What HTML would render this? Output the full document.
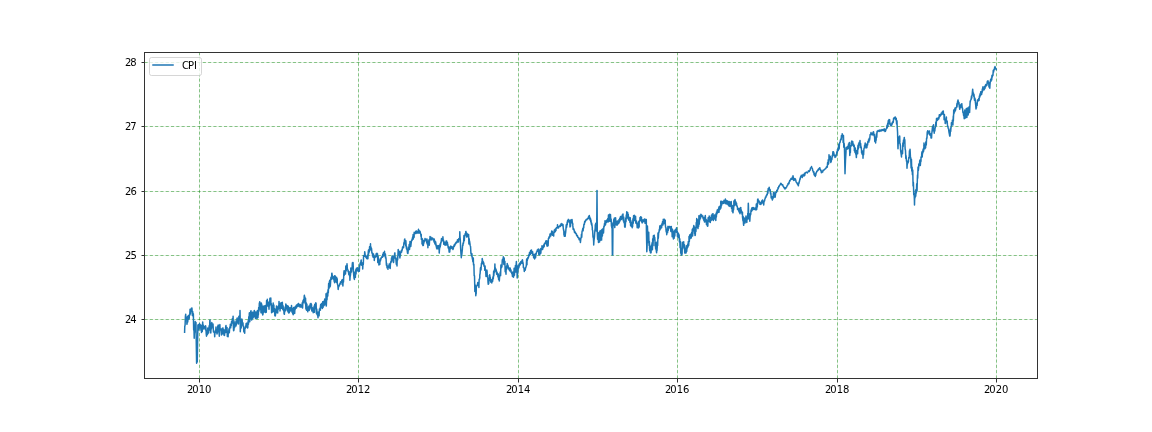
<!DOCTYPE html>
<html lang="en"><head><meta charset="utf-8"><title>CPI</title>
<style>html,body{margin:0;padding:0;background:#fff;}body{width:1152px;height:432px;overflow:hidden;position:relative;}svg{position:absolute;left:0;top:0;display:block;}text{font-family:"DejaVu Sans","Liberation Sans",sans-serif;font-size:10px;fill:#000;}</style>
</head><body>
<svg width="1152" height="432" viewBox="0 0 1152 432">
<rect x="0" y="0" width="1152" height="432" fill="#ffffff"/>
<g fill="none" stroke="#008000" stroke-opacity="0.07" stroke-width="1"><path d="M199.5 378.5V52.5"/><path d="M358.5 378.5V52.5"/><path d="M518.5 378.5V52.5"/><path d="M677.5 378.5V52.5"/><path d="M837.5 378.5V52.5"/><path d="M996.5 378.5V52.5"/><path d="M144.5 319.5H1037.5"/><path d="M144.5 255.5H1037.5"/><path d="M144.5 191.5H1037.5"/><path d="M144.5 126.5H1037.5"/><path d="M144.5 62.5H1037.5"/></g>
<g fill="none" stroke="#008000" stroke-opacity="0.44" stroke-width="1" stroke-dasharray="3.1 2.2"><path d="M199.5 378.5V52.5"/><path d="M358.5 378.5V52.5"/><path d="M518.5 378.5V52.5"/><path d="M677.5 378.5V52.5"/><path d="M837.5 378.5V52.5"/><path d="M996.5 378.5V52.5"/></g>
<g fill="none" stroke="#008000" stroke-opacity="0.44" stroke-width="1" stroke-dasharray="3.1 2.2"><path d="M144.5 319.5H1037.5"/><path d="M144.5 255.5H1037.5"/><path d="M144.5 191.5H1037.5"/><path d="M144.5 126.5H1037.5"/><path d="M144.5 62.5H1037.5"/></g>
<clipPath id="axclip"><rect x="144" y="52" width="893.5" height="326.5"/></clipPath>
<path clip-path="url(#axclip)" d="M184.60 332.30 L184.76 326.48 L185.09 325.10 L185.43 316.13 L185.70 314.30 L185.76 318.78 L186.09 319.22 L186.42 318.88 L186.75 317.47 L186.90 324.20 L187.08 323.47 L187.41 316.60 L187.74 321.98 L188.07 315.92 L188.40 319.46 L188.40 315.80 L188.73 317.00 L189.06 317.69 L189.20 318.50 L189.39 314.49 L189.72 315.31 L190.05 309.27 L190.38 313.93 L190.60 309.50 L190.71 309.21 L191.04 311.27 L191.37 308.28 L191.70 310.23 L191.90 307.90 L192.03 309.52 L192.36 315.41 L192.69 311.44 L193.02 315.45 L193.30 316.50 L193.35 313.80 L193.68 329.99 L194.01 330.07 L194.20 338.30 L194.34 333.65 L194.67 331.52 L195.00 327.13 L195.20 321.50 L195.33 325.13 L195.66 324.81 L195.99 322.52 L196.00 326.00 L196.60 363.30 L197.00 346.00 L197.25 362.00 L197.90 325.00 L197.97 326.22 L198.30 328.59 L198.60 330.00 L198.63 324.82 L198.96 328.86 L199.29 325.28 L199.50 323.50 L199.62 326.12 L199.95 324.64 L200.28 327.86 L200.61 324.95 L200.80 325.00 L200.94 330.18 L201.27 325.52 L201.50 332.50 L201.60 331.67 L201.93 325.78 L202.26 331.38 L202.59 324.03 L202.70 322.00 L202.92 327.48 L203.25 324.97 L203.58 325.86 L203.80 329.00 L203.91 326.21 L204.24 327.82 L204.57 326.72 L204.90 327.50 L205.23 326.98 L205.56 329.79 L205.60 325.80 L205.89 327.62 L206.22 333.72 L206.50 336.20 L206.55 330.15 L206.88 335.05 L207.21 332.78 L207.54 334.25 L207.80 328.00 L207.87 330.09 L208.20 331.05 L208.53 329.34 L208.60 333.00 L208.86 330.61 L209.19 325.66 L209.52 330.08 L209.85 320.32 L210.00 320.00 L210.18 327.79 L210.51 323.19 L210.80 333.00 L210.84 332.62 L211.17 323.93 L211.50 328.65 L211.80 322.50 L211.83 323.18 L212.16 324.75 L212.49 324.18 L212.82 327.11 L213.00 324.00 L213.15 326.47 L213.48 331.96 L213.81 330.69 L214.14 331.55 L214.47 332.32 L214.70 336.70 L214.80 334.77 L215.13 332.16 L215.46 332.37 L215.79 330.01 L216.00 327.00 L216.12 330.07 L216.45 329.66 L216.78 332.46 L217.00 334.00 L217.11 329.46 L217.44 332.94 L217.77 326.04 L218.10 328.83 L218.20 325.00 L218.43 328.90 L218.76 329.67 L219.09 332.19 L219.30 336.20 L219.42 333.52 L219.75 325.08 L219.90 324.60 L220.08 329.64 L220.41 329.67 L220.74 330.09 L221.07 329.01 L221.40 333.22 L221.50 335.00 L221.73 330.54 L222.06 334.28 L222.39 328.31 L222.72 330.49 L223.00 328.00 L223.05 329.73 L223.38 333.71 L223.71 329.86 L224.04 335.30 L224.37 331.08 L224.50 335.50 L224.70 332.40 L225.03 329.76 L225.36 332.60 L225.69 326.73 L226.00 325.40 L226.02 329.12 L226.35 330.15 L226.68 332.38 L227.00 333.00 L227.01 327.40 L227.34 336.43 L227.67 331.74 L228.00 333.04 L228.10 336.70 L228.33 331.35 L228.66 332.49 L228.99 328.67 L229.00 329.00 L229.32 332.74 L229.65 328.27 L229.98 326.66 L230.20 327.50 L230.31 324.33 L230.64 327.83 L230.97 324.31 L231.30 325.43 L231.50 322.00 L231.63 321.40 L231.96 323.07 L232.29 318.79 L232.62 320.04 L232.95 319.06 L233.10 316.20 L233.28 324.92 L233.60 330.80 L233.61 327.40 L233.94 330.10 L234.27 322.85 L234.60 327.61 L234.93 324.43 L235.00 321.00 L235.26 325.54 L235.59 323.64 L235.92 323.44 L236.00 326.00 L236.25 322.94 L236.58 324.24 L236.91 318.94 L237.20 318.00 L237.24 322.85 L237.57 320.87 L237.90 320.53 L238.23 320.84 L238.50 324.00 L238.56 322.12 L238.89 316.14 L239.22 317.51 L239.55 315.70 L239.88 317.14 L240.00 310.40 L240.21 320.51 L240.30 331.70 L240.54 327.71 L240.87 326.41 L241.20 328.02 L241.53 320.40 L241.80 319.00 L241.86 323.59 L242.19 320.39 L242.52 325.06 L242.85 323.39 L243.00 323.00 L243.18 326.57 L243.51 326.32 L243.84 331.85 L244.17 329.73 L244.50 330.30 L244.70 333.30 L244.83 327.63 L245.16 328.50 L245.49 327.56 L245.50 326.00 L245.82 327.23 L246.15 323.44 L246.48 326.87 L246.80 323.30 L246.81 325.39 L247.14 327.10 L247.47 322.89 L247.50 328.00 L247.80 327.54 L248.13 320.79 L248.46 324.30 L248.79 316.63 L249.12 320.97 L249.30 313.70 L249.45 312.74 L249.78 321.80 L250.00 318.00 L250.11 313.95 L250.44 318.56 L250.77 310.98 L251.00 310.80 L251.10 318.06 L251.43 312.95 L251.60 320.00 L251.76 319.82 L252.09 312.44 L252.42 318.59 L252.75 312.19 L253.00 314.00 L253.08 317.87 L253.41 312.21 L253.74 316.51 L254.07 311.84 L254.30 310.40 L254.40 316.68 L254.73 311.18 L255.06 316.24 L255.39 312.09 L255.50 318.50 L255.72 317.92 L256.05 312.32 L256.38 317.41 L256.50 312.00 L256.71 312.00 L257.04 318.43 L257.37 310.52 L257.70 317.10 L258.00 317.50 L258.03 312.75 L258.36 314.91 L258.69 307.56 L259.02 311.15 L259.35 302.97 L259.68 307.83 L259.70 301.70 L260.01 302.93 L260.34 308.98 L260.67 303.84 L260.80 309.00 L261.00 312.63 L261.33 303.07 L261.50 304.00 L261.66 309.30 L261.99 304.97 L262.32 313.63 L262.65 310.63 L262.70 315.00 L262.98 314.24 L263.31 306.46 L263.64 312.43 L263.97 307.24 L264.00 306.00 L264.30 311.64 L264.50 308.00 L264.63 306.10 L264.96 311.43 L265.29 305.54 L265.50 312.50 L265.62 311.91 L265.95 305.53 L266.28 312.25 L266.61 300.44 L266.94 304.98 L267.27 301.43 L267.30 299.30 L267.60 305.73 L267.93 301.79 L268.26 306.45 L268.59 302.63 L268.92 306.79 L269.00 309.30 L269.25 302.36 L269.58 305.73 L269.91 298.31 L270.24 303.90 L270.57 300.37 L270.80 298.10 L270.90 304.28 L271.23 303.48 L271.56 311.29 L271.60 312.70 L271.89 307.68 L272.22 312.20 L272.55 305.22 L272.88 307.84 L273.20 303.00 L273.21 305.53 L273.54 311.42 L273.87 305.01 L274.00 311.00 L274.20 311.83 L274.53 308.42 L274.86 315.80 L275.19 311.63 L275.30 316.00 L275.52 314.55 L275.85 309.31 L276.18 312.84 L276.50 306.00 L276.51 307.36 L276.84 312.46 L277.17 306.79 L277.50 310.08 L277.70 313.00 L277.83 308.03 L278.16 309.43 L278.49 305.67 L278.82 308.19 L279.00 301.40 L279.15 304.46 L279.48 307.27 L279.81 304.92 L280.00 311.00 L280.14 309.26 L280.47 303.26 L280.80 308.13 L281.00 305.00 L281.13 302.86 L281.46 308.14 L281.79 302.55 L282.12 308.39 L282.30 302.20 L282.45 304.11 L282.78 309.39 L283.11 305.68 L283.30 309.00 L283.44 310.51 L283.77 309.25 L284.10 314.02 L284.40 314.30 L284.43 309.87 L284.76 312.06 L285.09 306.95 L285.42 310.59 L285.75 305.51 L285.80 303.90 L286.08 308.27 L286.41 304.96 L286.74 307.77 L287.00 309.00 L287.07 305.49 L287.40 310.66 L287.73 307.33 L288.00 306.00 L288.06 312.09 L288.39 306.43 L288.72 312.99 L289.00 313.00 L289.05 307.40 L289.38 312.35 L289.71 307.96 L290.04 311.17 L290.20 308.00 L290.37 308.27 L290.70 310.24 L291.03 307.47 L291.36 310.75 L291.50 305.60 L291.69 307.95 L292.02 312.24 L292.30 310.00 L292.35 308.15 L292.68 313.64 L293.01 310.64 L293.20 314.70 L293.34 312.38 L293.67 307.56 L294.00 312.72 L294.33 310.17 L294.50 308.00 L294.66 313.55 L294.99 307.30 L295.30 306.50 L295.32 309.22 L295.65 306.47 L295.98 307.06 L296.31 305.30 L296.50 308.00 L296.64 306.71 L296.97 304.82 L297.30 306.10 L297.50 304.50 L297.63 304.20 L297.96 306.45 L298.29 303.57 L298.60 303.50 L298.62 306.03 L298.95 304.16 L299.28 305.45 L299.61 304.99 L299.94 306.78 L300.00 307.00 L300.27 304.42 L300.60 306.89 L300.93 305.20 L301.26 307.02 L301.50 305.00 L301.59 305.73 L301.92 306.74 L302.25 302.65 L302.50 308.00 L302.58 307.98 L302.91 300.73 L303.24 302.99 L303.50 301.00 L303.57 299.40 L303.90 302.07 L304.23 295.83 L304.40 295.20 L304.56 299.36 L304.89 297.00 L305.22 303.70 L305.50 303.00 L305.55 298.37 L305.88 308.95 L306.21 302.82 L306.50 309.00 L306.54 310.25 L306.87 303.93 L307.20 309.81 L307.53 307.06 L307.70 311.80 L307.86 310.23 L308.19 307.62 L308.52 309.98 L308.85 306.76 L309.00 306.00 L309.18 310.46 L309.51 306.39 L309.84 308.04 L310.00 309.00 L310.17 303.88 L310.50 306.76 L310.83 303.54 L311.10 303.50 L311.16 307.31 L311.49 304.55 L311.82 310.99 L312.00 309.00 L312.15 307.55 L312.48 311.08 L312.81 308.12 L313.14 311.79 L313.20 312.70 L313.47 309.21 L313.80 310.39 L314.13 305.98 L314.46 312.32 L314.50 308.00 L314.79 304.19 L315.12 308.80 L315.45 303.65 L315.78 307.33 L315.80 302.70 L316.11 303.61 L316.44 313.56 L316.50 311.00 L316.77 308.92 L317.10 314.66 L317.43 312.01 L317.76 315.37 L318.00 317.70 L318.09 312.49 L318.42 316.03 L318.75 311.74 L319.08 315.86 L319.41 309.07 L319.50 310.00 L319.74 310.39 L320.07 307.91 L320.40 310.13 L320.50 306.00 L320.73 304.46 L321.06 307.46 L321.39 305.04 L321.50 303.50 L321.72 307.31 L322.05 303.65 L322.30 308.50 L322.38 307.19 L322.71 301.66 L323.04 307.57 L323.37 301.86 L323.60 301.40 L323.70 305.87 L324.03 303.52 L324.36 304.66 L324.50 305.00 L324.69 299.08 L325.02 303.66 L325.35 300.12 L325.68 303.93 L326.00 299.00 L326.01 293.82 L326.20 306.00 L326.34 305.40 L326.67 298.25 L327.00 299.70 L327.30 293.50 L327.33 292.23 L327.66 296.08 L327.80 296.00 L327.99 289.83 L328.32 292.76 L328.50 288.00 L328.65 283.47 L328.98 288.48 L329.31 281.71 L329.64 283.43 L329.70 280.20 L329.90 287.00 L329.97 282.35 L330.30 286.12 L330.63 281.24 L330.96 277.23 L331.29 279.30 L331.62 277.68 L331.80 273.20 L331.95 273.26 L332.28 275.73 L332.61 276.98 L332.94 276.52 L333.00 279.00 L333.27 276.80 L333.60 278.12 L333.93 279.35 L334.26 281.75 L334.50 275.70 L334.59 279.55 L334.60 282.70 L334.92 280.31 L335.25 276.04 L335.58 279.69 L335.91 278.48 L336.24 282.17 L336.57 278.04 L336.60 277.30 L336.90 280.82 L337.23 278.73 L337.30 284.00 L337.56 283.98 L337.89 285.95 L338.20 289.40 L338.22 289.07 L338.55 286.46 L338.88 286.64 L339.21 285.54 L339.50 285.00 L339.54 285.05 L339.87 283.59 L340.20 284.09 L340.53 281.87 L340.86 282.18 L341.00 282.00 L341.19 282.23 L341.52 281.65 L341.85 280.09 L342.18 284.39 L342.51 281.83 L342.80 279.40 L342.84 285.08 L342.90 286.00 L343.17 279.97 L343.50 281.93 L343.83 272.97 L344.10 270.70 L344.16 275.45 L344.49 274.74 L344.82 273.59 L345.15 270.85 L345.48 273.30 L345.50 274.00 L345.81 265.99 L346.14 270.93 L346.47 269.41 L346.80 266.43 L347.00 263.70 L347.13 265.94 L347.46 269.66 L347.79 269.81 L348.00 270.00 L348.12 271.69 L348.45 270.84 L348.78 274.55 L349.11 271.58 L349.44 275.79 L349.77 273.97 L349.90 280.20 L350.10 276.98 L350.43 275.18 L350.76 272.07 L350.80 268.00 L351.09 269.83 L351.42 268.87 L351.50 272.00 L351.75 269.12 L352.08 267.90 L352.41 262.85 L352.74 264.99 L352.80 262.50 L353.07 262.62 L353.40 270.88 L353.50 272.00 L353.73 275.13 L354.06 278.43 L354.39 275.54 L354.40 279.40 L354.72 275.58 L355.05 272.02 L355.38 277.36 L355.50 272.00 L355.71 269.74 L356.04 274.03 L356.37 268.29 L356.70 270.67 L357.03 269.25 L357.36 269.65 L357.40 267.70 L357.69 269.73 L358.02 269.75 L358.20 271.50 L358.35 269.81 L358.68 271.04 L359.01 267.55 L359.10 271.00 L359.34 271.27 L359.67 265.16 L360.00 264.70 L360.00 264.00 L360.33 262.87 L360.66 264.71 L360.99 260.80 L361.20 260.00 L361.32 264.51 L361.65 265.12 L361.98 262.83 L362.31 265.23 L362.64 264.49 L362.70 268.90 L362.97 264.42 L363.30 264.41 L363.50 258.00 L363.63 255.79 L363.96 256.59 L364.29 255.76 L364.62 254.46 L364.70 251.70 L364.95 253.21 L365.28 256.38 L365.61 255.72 L365.80 256.00 L365.94 257.52 L366.27 257.30 L366.60 258.41 L366.93 257.15 L367.00 258.70 L367.26 256.87 L367.59 254.94 L367.92 258.66 L368.25 252.17 L368.50 250.00 L368.58 254.07 L368.91 250.48 L369.24 249.27 L369.30 252.00 L369.57 246.70 L369.90 247.89 L370.23 249.11 L370.50 243.70 L370.56 249.68 L370.89 246.81 L371.22 248.23 L371.50 251.00 L371.55 248.55 L371.88 252.90 L372.21 253.30 L372.50 253.00 L372.54 255.92 L372.87 255.71 L373.20 257.25 L373.53 254.11 L373.86 257.20 L374.19 256.32 L374.30 260.40 L374.52 258.05 L374.85 257.59 L375.18 257.04 L375.50 256.00 L375.51 257.11 L375.84 256.95 L376.17 253.64 L376.50 255.42 L376.83 253.30 L377.00 253.30 L377.16 256.75 L377.49 253.80 L377.82 262.61 L378.00 259.00 L378.15 256.25 L378.48 262.57 L378.81 261.59 L378.90 265.00 L379.14 263.11 L379.47 260.79 L379.80 264.55 L380.00 259.00 L380.13 259.03 L380.46 260.87 L380.79 258.61 L381.12 258.73 L381.20 257.50 L381.45 257.63 L381.78 257.20 L382.11 256.15 L382.44 257.30 L382.50 257.00 L382.77 254.18 L383.10 256.39 L383.43 252.64 L383.76 255.10 L384.09 253.87 L384.42 253.78 L384.50 251.20 L384.75 255.91 L385.08 255.86 L385.41 254.00 L385.50 258.00 L385.74 256.78 L386.07 258.83 L386.40 265.23 L386.50 263.00 L386.73 263.75 L387.06 267.84 L387.39 266.52 L387.72 266.69 L388.00 269.30 L388.05 265.96 L388.38 267.59 L388.71 266.65 L389.04 266.59 L389.20 264.00 L389.37 265.66 L389.70 267.83 L390.03 263.82 L390.20 268.50 L390.36 264.97 L390.69 261.76 L391.02 262.48 L391.35 260.69 L391.50 258.00 L391.68 261.75 L392.01 256.36 L392.34 258.55 L392.50 256.00 L392.67 257.62 L393.00 259.93 L393.33 256.57 L393.50 262.50 L393.66 261.78 L393.99 255.94 L394.32 258.00 L394.65 253.54 L394.90 252.90 L394.98 255.88 L395.31 258.08 L395.64 258.41 L395.80 259.00 L395.97 259.92 L396.30 264.24 L396.63 258.85 L396.96 264.46 L397.00 265.90 L397.29 256.90 L397.62 260.05 L397.95 254.64 L398.20 249.60 L398.28 254.71 L398.61 253.67 L398.94 255.10 L399.27 251.19 L399.60 255.16 L399.90 257.90 L399.93 253.77 L400.26 256.22 L400.59 252.88 L400.92 251.78 L401.00 251.00 L401.25 252.26 L401.58 252.15 L401.91 249.72 L402.24 249.95 L402.40 248.30 L402.57 247.07 L402.90 247.91 L403.23 246.62 L403.50 246.00 L403.56 247.75 L403.89 242.65 L404.22 243.74 L404.55 239.62 L404.80 238.90 L404.88 242.50 L405.21 243.76 L405.54 243.48 L405.80 246.00 L405.87 240.80 L406.20 246.01 L406.50 249.00 L406.53 246.39 L406.86 249.28 L407.19 250.12 L407.52 253.27 L407.85 251.10 L407.90 253.50 L408.18 250.71 L408.51 247.33 L408.84 248.72 L409.00 247.00 L409.17 244.52 L409.50 249.45 L409.83 245.36 L410.00 241.40 L410.16 245.39 L410.49 242.38 L410.80 246.40 L410.82 246.22 L411.15 243.09 L411.48 241.05 L411.81 239.87 L412.00 240.00 L412.14 240.13 L412.47 238.24 L412.60 237.00 L412.80 239.50 L413.13 234.49 L413.30 239.00 L413.46 237.60 L413.79 234.87 L414.12 237.33 L414.20 232.20 L414.45 232.44 L414.78 233.57 L415.11 232.42 L415.44 232.92 L415.50 233.50 L415.77 231.33 L416.10 233.41 L416.43 232.14 L416.50 231.00 L416.76 232.41 L417.09 232.25 L417.30 233.00 L417.42 232.96 L417.75 231.44 L418.08 232.95 L418.41 229.68 L418.50 229.30 L418.74 232.96 L419.07 230.62 L419.40 232.08 L419.50 233.00 L419.73 230.99 L420.06 232.37 L420.30 232.00 L420.39 233.22 L420.72 233.94 L421.05 236.76 L421.20 234.30 L421.38 239.37 L421.71 238.14 L422.00 240.00 L422.04 244.05 L422.37 238.66 L422.70 242.11 L422.90 245.60 L423.03 242.60 L423.36 245.37 L423.69 240.59 L424.00 243.00 L424.02 241.67 L424.35 241.40 L424.68 241.28 L425.00 238.50 L425.01 239.13 L425.34 239.72 L425.67 239.11 L426.00 239.85 L426.00 240.00 L426.33 239.28 L426.66 242.28 L426.99 243.12 L427.00 239.00 L427.32 244.13 L427.65 240.98 L427.90 247.70 L427.98 244.50 L428.31 241.55 L428.64 243.74 L428.80 243.00 L428.97 239.84 L429.30 245.16 L429.63 238.97 L429.96 239.77 L430.00 236.40 L430.29 238.70 L430.62 238.21 L430.95 237.17 L431.20 240.00 L431.28 238.85 L431.61 238.35 L431.94 239.08 L432.27 238.73 L432.30 238.00 L432.60 239.02 L432.93 238.38 L433.26 240.03 L433.30 238.90 L433.59 239.70 L433.92 240.25 L434.00 242.00 L434.25 239.00 L434.58 241.94 L434.91 243.83 L435.00 241.00 L435.24 244.22 L435.57 241.64 L435.90 243.61 L436.00 246.00 L436.23 245.03 L436.56 248.08 L436.89 247.17 L437.00 249.00 L437.22 246.90 L437.55 245.77 L437.88 248.58 L438.00 245.50 L438.21 248.73 L438.54 248.17 L438.87 245.70 L439.20 250.96 L439.20 253.10 L439.53 248.45 L439.86 247.75 L440.00 244.00 L440.19 246.95 L440.52 245.17 L440.85 242.27 L441.00 243.00 L441.18 241.62 L441.51 238.53 L441.84 239.55 L442.00 239.00 L442.17 238.68 L442.50 240.74 L442.83 239.55 L442.90 236.80 L443.16 240.13 L443.49 240.06 L443.82 244.37 L444.00 243.00 L444.15 241.80 L444.48 244.08 L444.81 244.01 L445.00 245.20 L445.14 244.84 L445.47 242.31 L445.80 244.90 L446.00 242.00 L446.13 241.05 L446.46 243.03 L446.70 241.00 L446.79 242.96 L447.12 245.06 L447.45 242.51 L447.50 244.00 L447.78 244.42 L448.11 247.26 L448.30 248.00 L448.44 246.62 L448.77 247.12 L449.10 251.49 L449.20 252.20 L449.43 250.38 L449.76 251.86 L450.00 247.00 L450.09 249.41 L450.42 247.43 L450.75 247.16 L450.80 246.00 L451.08 247.20 L451.41 246.65 L451.74 248.36 L452.00 248.00 L452.07 246.72 L452.40 248.86 L452.73 248.03 L453.00 249.50 L453.06 248.89 L453.39 248.18 L453.72 246.14 L454.00 246.00 L454.05 245.12 L454.38 246.21 L454.71 245.54 L455.00 244.00 L455.04 244.87 L455.37 243.32 L455.70 243.01 L456.00 243.50 L456.03 242.15 L456.36 242.23 L456.69 241.78 L457.02 242.53 L457.35 241.04 L457.50 239.70 L457.68 241.57 L458.01 240.08 L458.34 240.94 L458.50 242.00 L458.67 238.77 L459.00 239.60 L459.33 238.34 L459.66 238.07 L459.80 231.80 L459.99 236.54 L460.32 240.33 L460.50 245.00 L460.65 248.62 L460.98 253.64 L461.30 257.70 L461.31 253.98 L461.64 255.93 L461.97 253.25 L462.30 249.64 L462.30 250.00 L462.63 245.06 L462.96 245.59 L463.00 243.00 L463.29 243.90 L463.62 242.02 L463.95 235.42 L464.00 238.00 L464.28 240.67 L464.61 236.17 L464.94 235.57 L465.27 233.47 L465.60 234.82 L465.80 231.40 L465.93 231.49 L466.26 233.85 L466.59 232.90 L466.60 237.00 L466.92 235.64 L467.25 234.93 L467.50 234.00 L467.58 236.57 L467.91 236.67 L468.24 236.06 L468.57 234.41 L468.70 236.80 L468.90 243.96 L469.23 238.84 L469.50 243.00 L469.56 241.03 L469.89 243.29 L470.22 245.68 L470.55 246.44 L470.80 251.00 L470.88 253.10 L471.21 253.85 L471.50 256.00 L471.54 254.98 L471.87 253.62 L472.20 257.67 L472.50 259.30 L472.53 257.75 L472.86 261.63 L473.19 258.86 L473.30 258.00 L473.52 264.96 L473.85 264.08 L473.90 264.30 L474.18 275.77 L474.51 275.79 L474.80 288.00 L474.84 291.38 L475.17 288.12 L475.30 285.00 L475.50 286.88 L475.80 295.80 L475.83 291.52 L476.16 293.88 L476.30 287.00 L476.49 286.41 L476.82 286.01 L477.15 285.04 L477.48 283.89 L477.80 282.50 L477.81 285.16 L478.14 284.65 L478.47 284.85 L478.80 285.17 L478.90 287.50 L479.13 279.45 L479.46 279.24 L479.79 277.54 L479.80 275.00 L480.12 273.28 L480.45 268.01 L480.50 268.00 L480.78 267.22 L481.00 270.00 L481.11 268.17 L481.44 263.42 L481.77 263.22 L482.10 260.90 L482.20 258.50 L482.43 259.59 L482.76 261.79 L483.00 264.00 L483.09 262.32 L483.42 262.01 L483.75 264.85 L483.80 263.00 L484.08 266.18 L484.41 266.28 L484.70 266.80 L484.74 270.24 L485.07 266.08 L485.30 270.00 L485.40 269.71 L485.73 271.37 L486.00 276.40 L486.06 274.78 L486.39 271.47 L486.72 275.87 L486.80 270.00 L487.05 271.16 L487.30 276.00 L487.38 277.01 L487.71 275.55 L488.04 282.48 L488.30 284.30 L488.37 281.61 L488.70 283.70 L489.00 278.00 L489.03 280.80 L489.36 280.11 L489.69 277.91 L489.70 274.70 L490.02 277.11 L490.35 277.86 L490.50 279.00 L490.68 282.11 L491.01 279.67 L491.34 281.58 L491.67 279.87 L491.80 283.00 L492.00 281.11 L492.33 279.84 L492.66 281.20 L492.80 278.00 L492.99 276.79 L493.32 278.64 L493.65 271.26 L493.80 276.00 L493.98 273.32 L494.30 270.00 L494.31 272.14 L494.64 272.00 L494.90 263.90 L494.97 267.01 L495.30 268.27 L495.50 271.00 L495.63 268.51 L495.96 270.79 L496.29 270.03 L496.62 274.22 L496.80 271.80 L496.95 273.47 L497.28 272.93 L497.50 275.00 L497.61 274.02 L497.94 276.85 L498.27 275.60 L498.30 274.00 L498.60 279.58 L498.93 277.36 L499.26 279.96 L499.30 281.00 L499.59 277.03 L499.92 274.94 L500.25 271.92 L500.30 273.00 L500.58 275.61 L500.91 264.97 L501.24 267.87 L501.30 266.00 L501.57 265.05 L501.90 267.02 L502.23 261.24 L502.30 260.00 L502.56 259.38 L502.89 259.52 L503.22 260.11 L503.30 256.80 L503.55 260.29 L503.88 264.56 L504.21 257.91 L504.30 262.00 L504.54 263.77 L504.87 261.16 L505.20 271.83 L505.30 267.00 L505.53 266.76 L505.86 272.50 L506.00 274.30 L506.19 267.12 L506.52 269.35 L506.60 268.00 L506.85 265.58 L507.18 266.62 L507.20 263.50 L507.51 264.49 L507.84 267.87 L508.17 265.74 L508.20 267.00 L508.50 268.82 L508.83 267.72 L509.16 269.82 L509.30 268.00 L509.49 268.42 L509.82 270.79 L510.00 271.00 L510.15 268.09 L510.48 270.69 L510.81 271.12 L511.00 270.00 L511.14 272.35 L511.47 272.24 L511.80 273.55 L512.00 273.00 L512.13 273.30 L512.46 276.43 L512.79 271.99 L513.12 276.35 L513.45 272.83 L513.50 277.20 L513.78 275.63 L514.11 268.16 L514.30 270.00 L514.44 275.14 L514.77 268.94 L515.00 268.00 L515.10 272.22 L515.43 265.38 L515.76 271.57 L515.80 272.00 L516.09 265.19 L516.40 261.40 L516.42 265.05 L516.75 264.84 L517.08 273.97 L517.20 278.00 L517.41 270.65 L517.74 273.43 L518.00 266.00 L518.07 266.20 L518.40 268.85 L518.73 266.72 L519.00 265.00 L519.06 267.25 L519.39 263.49 L519.72 265.37 L520.00 264.00 L520.05 262.86 L520.38 264.41 L520.71 261.85 L521.04 263.40 L521.20 262.00 L521.37 261.41 L521.70 261.16 L522.03 260.81 L522.36 263.21 L522.40 259.70 L522.69 261.44 L523.02 262.81 L523.30 265.00 L523.35 267.61 L523.68 267.07 L524.01 268.31 L524.30 271.40 L524.34 269.89 L524.67 269.33 L525.00 270.35 L525.30 270.00 L525.33 269.39 L525.66 267.68 L525.99 267.09 L526.20 266.00 L526.32 265.34 L526.65 258.99 L526.98 264.69 L527.00 261.00 L527.31 260.35 L527.64 258.97 L527.70 257.70 L527.97 257.76 L528.30 257.99 L528.50 257.00 L528.63 254.89 L528.96 255.23 L529.29 255.65 L529.50 252.50 L529.62 254.57 L529.95 252.45 L530.28 252.17 L530.30 254.50 L530.61 250.46 L530.94 253.36 L531.27 252.91 L531.50 250.00 L531.60 252.12 L531.93 251.99 L532.26 253.03 L532.50 254.00 L532.59 251.69 L532.92 255.10 L533.25 255.31 L533.50 254.50 L533.58 257.44 L533.91 254.66 L534.24 258.35 L534.57 254.50 L534.60 259.00 L534.90 255.48 L535.23 253.88 L535.50 254.00 L535.56 257.63 L535.89 253.91 L536.22 254.11 L536.50 252.00 L536.55 252.07 L536.88 251.37 L537.21 250.49 L537.30 250.00 L537.54 250.83 L537.87 249.56 L538.20 251.33 L538.30 249.00 L538.53 251.32 L538.86 254.75 L539.00 252.00 L539.19 249.97 L539.52 252.69 L539.80 255.00 L539.85 252.13 L540.18 252.27 L540.51 248.64 L540.80 249.00 L540.84 253.14 L541.17 248.16 L541.50 249.61 L541.83 247.67 L542.00 245.70 L542.16 247.46 L542.49 247.61 L542.60 249.50 L542.82 247.74 L543.15 247.78 L543.48 247.45 L543.50 246.00 L543.81 244.65 L544.14 246.55 L544.47 243.30 L544.50 244.00 L544.80 244.14 L545.13 243.37 L545.46 242.81 L545.50 243.00 L545.79 240.97 L546.12 243.15 L546.45 243.55 L546.70 240.70 L546.78 244.78 L547.10 246.20 L547.11 242.81 L547.44 245.86 L547.77 241.92 L548.00 241.00 L548.10 245.81 L548.43 238.44 L548.76 238.11 L549.09 236.88 L549.20 237.30 L549.42 238.03 L549.75 236.90 L550.00 234.00 L550.08 235.94 L550.41 234.97 L550.74 234.38 L550.80 236.00 L551.07 233.29 L551.40 233.75 L551.70 231.00 L551.73 231.18 L552.06 234.40 L552.39 231.38 L552.60 234.00 L552.72 235.32 L553.05 234.94 L553.38 234.65 L553.70 236.10 L553.71 233.79 L554.04 232.37 L554.37 229.90 L554.50 232.00 L554.70 232.24 L555.03 230.85 L555.30 229.00 L555.36 231.39 L555.69 229.70 L556.00 230.50 L556.02 228.48 L556.35 227.73 L556.68 227.76 L557.01 227.97 L557.34 227.92 L557.50 224.80 L557.67 226.67 L558.00 226.93 L558.33 226.85 L558.50 228.00 L558.66 226.79 L558.99 226.86 L559.32 226.63 L559.50 226.00 L559.65 226.38 L559.98 226.55 L560.30 226.50 L560.31 225.04 L560.64 225.69 L560.97 225.71 L561.20 223.60 L561.30 225.41 L561.63 224.25 L561.96 224.44 L562.29 224.13 L562.30 225.00 L562.62 225.64 L562.95 226.26 L563.00 224.50 L563.28 228.47 L563.61 230.38 L563.80 230.00 L563.94 235.02 L564.27 233.86 L564.30 236.20 L564.60 234.98 L564.80 232.00 L564.93 233.57 L565.20 236.20 L565.26 234.98 L565.59 232.76 L565.60 233.00 L565.92 229.40 L566.25 224.87 L566.30 228.00 L566.58 227.29 L566.91 224.81 L567.20 222.00 L567.24 224.68 L567.57 220.64 L567.90 220.26 L568.23 219.56 L568.30 219.40 L568.56 220.47 L568.89 221.69 L569.20 220.50 L569.22 222.15 L569.55 220.36 L569.88 223.39 L570.00 227.00 L570.21 221.31 L570.54 226.16 L570.80 220.00 L570.87 221.42 L571.20 222.86 L571.53 219.75 L571.86 220.80 L572.00 219.40 L572.19 221.53 L572.52 223.33 L572.80 224.00 L572.85 225.88 L573.18 229.38 L573.40 229.00 L573.51 229.16 L573.84 228.89 L574.17 230.49 L574.50 232.37 L574.50 231.00 L574.83 232.12 L575.16 232.95 L575.49 232.37 L575.50 233.00 L575.82 233.69 L576.15 233.56 L576.48 234.15 L576.50 235.00 L576.81 235.51 L577.14 236.17 L577.47 235.61 L577.50 236.00 L577.80 237.25 L578.13 237.59 L578.46 237.93 L578.50 238.00 L578.79 237.62 L579.12 239.69 L579.45 239.26 L579.50 238.50 L579.78 239.45 L580.11 239.64 L580.40 242.40 L580.44 242.36 L580.77 239.07 L581.10 237.52 L581.30 237.00 L581.43 234.18 L581.76 237.19 L582.00 232.00 L582.09 231.26 L582.42 230.66 L582.75 228.60 L583.00 229.00 L583.08 230.86 L583.41 226.94 L583.74 227.72 L583.80 225.00 L584.07 224.03 L584.40 224.38 L584.60 222.00 L584.73 221.53 L585.06 222.23 L585.39 220.47 L585.50 221.00 L585.72 220.76 L586.05 219.58 L586.38 219.60 L586.50 219.50 L586.71 219.79 L587.04 219.19 L587.37 218.47 L587.50 219.00 L587.70 218.19 L588.03 218.51 L588.30 218.00 L588.36 218.57 L588.69 216.14 L589.02 217.76 L589.30 215.60 L589.35 216.04 L589.68 217.12 L590.01 219.94 L590.20 218.00 L590.34 219.94 L590.67 219.02 L590.80 222.00 L591.00 220.40 L591.33 224.06 L591.66 225.12 L591.70 223.00 L591.99 225.03 L592.30 228.00 L592.32 229.74 L592.65 230.58 L592.98 237.09 L593.00 236.00 L593.31 236.62 L593.64 241.61 L593.70 245.00 L593.97 240.74 L594.30 238.17 L594.50 236.00 L594.63 233.30 L594.96 230.12 L595.20 228.00 L595.29 224.66 L595.62 225.20 L595.80 223.20 L595.95 227.08 L596.28 231.01 L596.40 229.00 L596.75 222.00 L597.00 190.50 L597.30 232.00 L597.60 239.32 L597.93 232.89 L598.26 238.97 L598.50 242.40 L598.59 238.04 L598.90 232.50 L598.92 237.66 L599.25 235.86 L599.40 240.50 L599.58 241.99 L599.90 231.00 L599.91 232.66 L600.24 239.04 L600.40 240.30 L600.57 231.18 L600.90 235.52 L600.90 230.50 L601.23 232.40 L601.40 238.00 L601.56 240.11 L601.89 231.69 L601.90 229.50 L602.22 236.02 L602.40 236.00 L602.55 230.70 L602.88 230.65 L603.00 228.50 L603.21 229.76 L603.50 233.00 L603.54 232.59 L603.87 226.25 L604.00 226.00 L604.20 226.67 L604.53 223.40 L604.86 225.41 L605.00 220.70 L605.19 223.49 L605.52 224.66 L605.85 221.64 L606.00 223.00 L606.18 222.62 L606.51 220.35 L606.84 222.06 L607.00 220.00 L607.17 220.02 L607.50 221.03 L607.83 218.42 L608.00 222.00 L608.16 221.98 L608.49 214.89 L608.80 217.00 L608.82 221.25 L609.15 216.34 L609.48 219.30 L609.50 214.30 L609.81 216.70 L610.14 221.36 L610.30 218.00 L610.47 214.43 L610.80 221.45 L611.00 221.00 L611.13 219.09 L611.46 226.23 L611.79 222.73 L611.80 228.00 L612.10 226.00 L612.35 255.00 L612.70 255.00 L612.95 226.00 L613.20 224.00 L613.44 223.11 L613.77 219.94 L614.00 219.00 L614.10 225.59 L614.43 218.04 L614.76 227.28 L614.80 227.50 L615.09 218.19 L615.42 224.03 L615.60 217.70 L615.75 221.10 L616.08 222.86 L616.30 225.00 L616.41 221.46 L616.74 223.60 L617.07 221.23 L617.20 221.00 L617.40 224.88 L617.73 221.45 L618.00 224.00 L618.06 223.38 L618.39 220.98 L618.72 223.35 L619.00 219.50 L619.05 219.75 L619.38 222.10 L619.71 218.24 L620.00 221.00 L620.04 220.27 L620.37 216.92 L620.60 216.50 L620.70 219.73 L621.03 217.26 L621.36 219.43 L621.50 219.00 L621.69 216.35 L622.02 217.87 L622.30 215.00 L622.35 214.89 L622.68 218.70 L623.00 213.90 L623.01 216.80 L623.34 220.83 L623.67 217.08 L623.80 219.00 L624.00 222.68 L624.33 221.12 L624.50 222.00 L624.66 226.98 L624.99 223.63 L625.10 227.20 L625.32 225.65 L625.65 218.86 L625.80 218.00 L625.98 221.69 L626.31 214.91 L626.64 217.18 L626.70 211.80 L626.97 212.50 L627.30 217.91 L627.50 216.00 L627.63 212.38 L627.96 215.45 L628.29 214.55 L628.30 218.50 L628.62 219.88 L628.95 218.32 L629.00 217.00 L629.28 220.37 L629.61 218.66 L629.94 222.31 L630.00 221.00 L630.27 217.76 L630.60 225.69 L630.93 220.81 L631.00 222.00 L631.26 226.29 L631.59 223.32 L631.92 226.27 L632.20 227.70 L632.25 222.59 L632.58 226.84 L632.91 218.85 L633.00 222.00 L633.24 223.33 L633.57 215.82 L633.60 218.00 L633.90 219.94 L634.23 218.09 L634.30 215.20 L634.56 220.48 L634.89 216.41 L635.00 219.00 L635.22 219.21 L635.55 216.17 L635.80 223.00 L635.88 223.13 L636.21 221.04 L636.50 221.00 L636.54 223.67 L636.87 222.18 L637.20 227.67 L637.50 225.00 L637.53 223.24 L637.86 226.83 L638.19 224.15 L638.40 228.00 L638.52 227.78 L638.85 221.16 L639.18 227.07 L639.20 222.00 L639.51 221.29 L639.84 220.72 L640.00 217.50 L640.17 218.71 L640.50 220.44 L640.60 216.80 L640.83 219.46 L641.16 220.20 L641.49 217.16 L641.50 221.00 L641.82 221.97 L642.15 219.82 L642.20 223.00 L642.48 222.50 L642.81 220.16 L643.00 221.00 L643.14 221.12 L643.47 219.95 L643.80 221.40 L644.00 219.50 L644.13 219.28 L644.46 220.85 L644.70 219.00 L644.79 219.91 L645.12 223.33 L645.45 219.52 L645.50 221.00 L645.78 223.00 L646.11 222.21 L646.30 219.50 L646.44 232.25 L646.77 247.17 L646.80 251.80 L647.10 246.97 L647.43 226.04 L647.50 228.00 L647.76 233.50 L648.09 233.94 L648.30 240.00 L648.42 242.61 L648.75 232.24 L648.80 236.00 L649.08 245.41 L649.41 241.44 L649.50 248.00 L649.74 250.71 L650.07 246.26 L650.40 252.67 L650.73 248.81 L650.90 253.00 L651.06 252.69 L651.39 244.92 L651.72 248.32 L651.80 248.00 L652.05 242.72 L652.38 249.63 L652.60 243.00 L652.71 238.77 L653.04 245.62 L653.37 235.77 L653.50 238.00 L653.70 239.28 L654.03 235.48 L654.20 235.20 L654.36 239.67 L654.69 237.34 L655.00 241.00 L655.02 245.74 L655.35 242.87 L655.68 248.94 L655.80 247.00 L656.01 242.70 L656.34 251.19 L656.60 252.70 L656.67 248.11 L657.00 250.62 L657.30 246.00 L657.33 241.47 L657.66 245.47 L657.99 233.01 L658.00 237.00 L658.32 238.18 L658.65 232.97 L658.80 232.00 L658.98 232.41 L659.31 229.21 L659.64 230.42 L659.70 227.00 L659.97 225.64 L660.30 229.07 L660.50 229.00 L660.63 226.08 L660.96 228.28 L661.29 225.04 L661.30 225.00 L661.62 227.58 L661.95 223.77 L662.20 223.50 L662.28 224.44 L662.61 221.44 L662.94 223.55 L663.00 225.00 L663.27 219.37 L663.60 223.52 L663.80 221.00 L663.93 220.56 L664.26 223.00 L664.50 219.30 L664.59 219.52 L664.92 224.02 L665.25 220.30 L665.30 224.00 L665.58 227.30 L665.91 227.59 L666.00 230.00 L666.24 231.95 L666.57 229.03 L666.70 234.70 L666.90 232.92 L667.23 229.18 L667.30 229.00 L667.56 232.61 L667.89 226.61 L668.00 226.40 L668.22 230.50 L668.55 227.66 L668.88 227.83 L669.00 228.00 L669.21 226.57 L669.54 227.30 L669.87 226.69 L670.00 226.50 L670.20 227.94 L670.53 227.97 L670.86 231.46 L671.19 227.58 L671.30 226.40 L671.52 231.72 L671.85 228.66 L672.00 231.00 L672.18 236.73 L672.51 229.20 L672.70 235.00 L672.84 236.67 L673.17 232.13 L673.40 239.00 L673.50 235.98 L673.83 231.18 L674.16 238.33 L674.20 233.00 L674.49 230.73 L674.82 236.02 L675.00 230.00 L675.15 231.66 L675.48 232.15 L675.80 232.00 L675.81 229.32 L676.14 230.23 L676.47 227.95 L676.50 227.70 L676.80 232.37 L677.13 231.14 L677.30 231.00 L677.46 236.52 L677.79 233.01 L678.00 234.00 L678.12 237.43 L678.45 233.25 L678.78 237.65 L678.80 237.70 L679.11 234.66 L679.44 242.02 L679.50 242.00 L679.77 238.84 L680.10 247.61 L680.30 246.00 L680.43 241.61 L680.76 253.22 L681.09 248.21 L681.30 255.20 L681.42 252.54 L681.75 250.50 L682.00 250.00 L682.08 254.32 L682.41 242.34 L682.74 248.84 L682.80 246.00 L683.07 246.19 L683.40 245.65 L683.70 241.80 L683.73 244.46 L684.06 247.08 L684.39 244.83 L684.50 247.00 L684.72 252.92 L685.05 248.34 L685.38 251.08 L685.50 253.00 L685.71 247.91 L686.04 252.93 L686.30 250.00 L686.37 245.81 L686.70 251.45 L687.03 247.43 L687.20 247.00 L687.36 248.05 L687.69 244.10 L688.00 244.00 L688.02 246.87 L688.35 241.41 L688.68 245.37 L689.00 241.00 L689.01 236.40 L689.34 241.40 L689.67 235.05 L689.80 237.00 L690.00 238.64 L690.33 235.13 L690.50 234.30 L690.66 237.98 L690.99 235.23 L691.30 238.00 L691.32 236.88 L691.65 232.44 L691.98 234.69 L692.00 234.00 L692.31 229.22 L692.64 235.93 L692.97 228.31 L693.00 230.00 L693.30 230.81 L693.63 227.03 L693.80 225.60 L693.96 230.17 L694.29 226.74 L694.50 230.00 L694.62 233.65 L694.95 232.10 L695.00 235.60 L695.28 235.30 L695.61 228.58 L695.80 227.00 L695.94 231.41 L696.27 222.60 L696.60 224.17 L696.70 218.50 L696.93 221.20 L697.26 227.35 L697.30 223.00 L697.59 220.06 L697.92 228.20 L698.00 228.50 L698.25 220.54 L698.58 226.51 L698.80 222.00 L698.91 215.73 L699.24 224.26 L699.57 218.62 L699.60 218.00 L699.90 219.78 L700.23 215.73 L700.30 215.00 L700.56 218.20 L700.89 214.38 L700.90 214.30 L701.22 215.19 L701.55 214.88 L701.80 216.50 L701.88 215.72 L702.21 215.86 L702.54 216.86 L702.80 216.00 L702.87 217.16 L703.20 218.84 L703.53 217.78 L703.80 218.00 L703.86 220.39 L704.19 219.34 L704.50 222.00 L704.52 218.38 L704.85 216.99 L705.18 221.19 L705.30 215.50 L705.51 219.16 L705.84 222.02 L706.17 219.55 L706.30 221.00 L706.50 224.80 L706.83 221.09 L707.16 224.84 L707.49 220.29 L707.50 226.20 L707.82 226.08 L708.15 217.83 L708.30 218.00 L708.48 221.50 L708.81 217.82 L709.14 220.13 L709.20 216.00 L709.47 217.96 L709.80 221.99 L710.13 218.54 L710.30 222.50 L710.46 219.70 L710.79 217.63 L711.12 220.47 L711.20 217.00 L711.45 215.23 L711.78 219.64 L712.00 215.50 L712.11 214.28 L712.44 218.74 L712.77 214.13 L713.00 213.70 L713.10 219.04 L713.30 220.50 L713.43 215.79 L713.76 218.31 L714.09 217.33 L714.42 218.45 L714.50 215.00 L714.75 215.56 L715.08 219.48 L715.41 214.84 L715.74 218.45 L715.80 220.50 L716.07 213.61 L716.40 217.08 L716.50 212.00 L716.73 214.02 L717.06 213.84 L717.20 210.00 L717.39 212.13 L717.72 212.12 L718.00 212.50 L718.05 209.41 L718.38 210.81 L718.71 207.73 L719.04 212.32 L719.20 206.60 L719.37 208.24 L719.70 209.47 L720.00 209.50 L720.03 206.34 L720.36 207.66 L720.69 204.88 L720.80 201.20 L721.02 207.88 L721.35 201.34 L721.68 204.09 L721.80 205.00 L722.01 202.79 L722.34 203.63 L722.67 202.10 L722.80 201.50 L723.00 203.34 L723.33 201.99 L723.66 203.22 L723.80 203.50 L723.99 200.27 L724.32 202.85 L724.60 201.00 L724.65 201.41 L724.98 202.36 L725.31 200.66 L725.40 199.00 L725.64 203.59 L725.97 201.95 L726.30 201.31 L726.30 204.00 L726.63 200.50 L726.96 203.70 L727.29 203.11 L727.30 201.00 L727.62 204.29 L727.95 201.24 L728.20 205.00 L728.28 203.56 L728.61 201.81 L728.94 205.98 L729.20 201.50 L729.27 203.40 L729.60 203.59 L729.93 202.07 L730.00 206.50 L730.26 203.99 L730.59 203.45 L730.92 204.04 L731.20 201.60 L731.25 202.85 L731.58 208.35 L731.91 205.28 L732.00 207.00 L732.24 211.40 L732.57 205.83 L732.90 212.31 L733.00 212.80 L733.23 208.90 L733.56 209.76 L733.80 206.00 L733.89 201.03 L734.22 204.15 L734.55 200.61 L734.88 205.56 L735.00 199.50 L735.21 200.97 L735.54 203.15 L735.80 203.00 L735.87 201.79 L736.20 204.41 L736.53 203.30 L736.70 206.00 L736.86 205.99 L737.19 206.09 L737.50 208.00 L737.52 209.43 L737.85 208.25 L738.18 209.86 L738.50 210.00 L738.51 208.58 L738.84 211.19 L739.17 211.74 L739.30 209.00 L739.50 212.70 L739.83 208.16 L740.00 213.70 L740.16 211.20 L740.49 210.49 L740.80 207.40 L740.82 212.36 L741.15 209.68 L741.48 212.77 L741.70 212.00 L741.81 211.22 L742.14 214.46 L742.47 212.15 L742.50 217.00 L742.80 219.28 L743.00 221.00 L743.13 216.22 L743.46 223.81 L743.70 225.30 L743.79 221.92 L744.12 222.97 L744.30 218.00 L744.45 221.92 L744.78 221.97 L745.00 223.00 L745.11 219.47 L745.44 222.02 L745.77 218.06 L746.00 216.00 L746.10 220.74 L746.43 217.15 L746.76 220.74 L746.80 222.50 L747.09 218.10 L747.42 217.65 L747.60 219.00 L747.75 213.60 L748.08 213.62 L748.30 203.20 L748.41 205.25 L748.74 218.82 L748.80 217.00 L749.07 213.52 L749.40 219.16 L749.73 216.08 L749.80 221.20 L750.06 217.30 L750.39 213.71 L750.50 215.00 L750.72 214.36 L751.05 209.90 L751.30 211.50 L751.38 211.28 L751.71 208.04 L752.00 208.00 L752.04 210.79 L752.37 207.69 L752.70 209.43 L753.00 207.40 L753.03 208.41 L753.36 208.81 L753.69 207.87 L754.00 209.50 L754.02 209.42 L754.35 208.78 L754.68 208.91 L755.00 208.00 L755.01 208.05 L755.34 209.56 L755.67 208.60 L756.00 209.91 L756.00 210.00 L756.33 204.09 L756.66 207.50 L756.70 209.50 L756.99 205.54 L757.30 203.00 L757.32 206.89 L757.65 199.19 L757.98 203.38 L758.00 199.00 L758.31 200.86 L758.64 200.75 L758.80 201.00 L758.97 200.87 L759.30 201.70 L759.63 202.09 L759.80 202.50 L759.96 204.35 L760.29 203.40 L760.62 203.09 L760.80 204.50 L760.95 202.54 L761.28 203.73 L761.60 201.00 L761.61 202.38 L761.94 200.99 L762.27 200.69 L762.50 200.00 L762.60 202.87 L762.93 201.34 L763.26 203.68 L763.59 203.67 L763.70 205.00 L763.92 202.25 L764.25 200.95 L764.50 200.00 L764.58 200.81 L764.91 198.84 L765.24 198.36 L765.50 197.00 L765.57 197.44 L765.90 197.45 L766.23 195.73 L766.56 194.98 L766.70 195.70 L766.89 194.36 L767.22 194.55 L767.50 193.00 L767.55 191.08 L767.88 193.22 L768.21 188.58 L768.30 190.00 L768.54 188.75 L768.87 188.51 L769.20 188.46 L769.20 187.30 L769.53 189.38 L769.86 190.57 L770.00 191.00 L770.19 189.65 L770.52 193.90 L770.85 193.01 L771.00 195.00 L771.18 198.06 L771.51 196.44 L771.84 197.06 L772.17 199.20 L772.30 200.00 L772.50 199.68 L772.83 197.82 L773.00 196.50 L773.16 198.21 L773.49 192.52 L773.82 194.97 L774.00 192.00 L774.15 192.69 L774.48 196.92 L774.81 194.32 L775.00 197.30 L775.14 197.12 L775.47 194.64 L775.80 192.62 L775.80 192.50 L776.13 192.08 L776.46 192.29 L776.79 190.23 L776.80 190.50 L777.12 190.99 L777.45 190.07 L777.78 189.36 L777.80 189.50 L778.11 187.47 L778.44 188.23 L778.77 186.34 L778.80 187.00 L779.10 186.63 L779.43 185.43 L779.76 185.24 L779.80 185.00 L780.09 184.85 L780.42 184.33 L780.75 183.36 L780.90 183.20 L781.08 183.82 L781.41 183.79 L781.74 184.78 L782.00 184.50 L782.07 184.93 L782.40 185.08 L782.73 184.82 L783.00 186.00 L783.06 185.96 L783.39 186.69 L783.72 187.20 L784.00 187.50 L784.05 187.33 L784.38 188.30 L784.71 187.75 L785.00 189.00 L785.04 188.97 L785.37 188.60 L785.70 188.47 L786.00 188.00 L786.03 187.51 L786.36 187.17 L786.69 187.10 L787.00 186.00 L787.02 186.10 L787.35 185.26 L787.68 185.12 L788.00 184.50 L788.01 183.59 L788.34 183.42 L788.67 183.04 L789.00 183.68 L789.00 182.50 L789.33 182.01 L789.66 180.54 L789.99 181.04 L790.00 180.50 L790.32 179.83 L790.65 179.45 L790.98 178.83 L791.00 178.50 L791.31 179.07 L791.64 179.23 L791.97 178.70 L792.00 179.50 L792.30 177.09 L792.63 176.96 L792.96 177.62 L793.00 175.70 L793.29 177.39 L793.62 180.08 L793.80 180.50 L793.95 179.44 L794.28 180.19 L794.61 179.39 L794.80 178.50 L794.94 179.33 L795.27 178.87 L795.60 179.65 L795.80 180.00 L795.93 181.45 L796.26 182.21 L796.59 182.40 L796.80 183.00 L796.92 183.19 L797.25 182.94 L797.58 184.60 L797.60 183.50 L797.91 184.42 L798.24 185.11 L798.40 185.70 L798.57 183.12 L798.90 183.50 L799.23 181.57 L799.30 182.00 L799.56 180.75 L799.89 179.14 L800.20 178.00 L800.22 179.21 L800.55 176.99 L800.88 176.22 L801.21 176.17 L801.30 175.20 L801.54 176.82 L801.87 176.04 L802.20 177.45 L802.20 177.50 L802.53 176.49 L802.86 175.27 L803.00 174.50 L803.19 175.45 L803.52 175.00 L803.85 174.82 L804.00 176.00 L804.18 175.36 L804.51 173.21 L804.84 175.29 L805.00 173.00 L805.17 172.94 L805.50 172.92 L805.83 172.51 L806.16 172.20 L806.30 172.00 L806.49 172.15 L806.82 172.35 L807.15 172.71 L807.30 173.00 L807.48 172.26 L807.81 172.18 L808.14 171.45 L808.30 171.00 L808.47 171.35 L808.80 171.45 L809.13 170.54 L809.30 171.50 L809.46 170.61 L809.79 170.18 L810.12 170.14 L810.30 169.00 L810.45 168.09 L810.78 167.83 L811.11 167.61 L811.44 167.08 L811.50 166.50 L811.77 167.79 L812.10 168.24 L812.43 168.67 L812.50 169.50 L812.76 170.79 L813.09 170.91 L813.42 172.27 L813.50 172.00 L813.75 171.66 L814.08 174.70 L814.41 173.26 L814.50 175.50 L814.74 175.30 L815.07 174.72 L815.30 176.50 L815.40 175.39 L815.73 175.40 L816.00 173.00 L816.06 172.82 L816.39 172.80 L816.72 171.59 L817.00 171.00 L817.05 171.47 L817.38 170.77 L817.71 169.95 L818.00 170.50 L818.04 170.04 L818.37 169.14 L818.70 169.79 L819.00 168.50 L819.03 169.18 L819.36 168.20 L819.69 168.01 L819.80 167.70 L820.02 169.09 L820.35 169.34 L820.68 170.30 L820.80 170.50 L821.01 170.28 L821.34 172.57 L821.67 171.96 L821.70 172.70 L822.00 171.94 L822.33 171.39 L822.66 172.08 L822.80 171.00 L822.99 170.39 L823.32 170.56 L823.65 170.34 L823.98 169.78 L824.00 170.00 L824.31 169.39 L824.64 169.46 L824.97 169.09 L825.00 169.00 L825.30 168.75 L825.63 168.65 L825.96 168.30 L826.00 168.20 L826.29 167.25 L826.62 166.67 L826.95 166.95 L827.00 166.50 L827.28 167.16 L827.61 162.60 L827.94 164.54 L828.27 159.65 L828.40 164.00 L828.60 163.67 L828.93 159.35 L829.00 154.80 L829.26 158.86 L829.59 158.28 L829.80 158.00 L829.92 159.54 L830.25 156.23 L830.58 160.91 L830.80 162.50 L830.91 157.98 L831.24 161.29 L831.57 159.18 L831.60 158.00 L831.90 159.31 L832.23 155.72 L832.50 155.00 L832.56 156.77 L832.89 151.72 L833.22 155.04 L833.50 151.70 L833.55 151.98 L833.88 153.47 L834.21 155.42 L834.30 155.00 L834.54 155.60 L834.87 155.92 L835.00 157.50 L835.20 156.95 L835.53 156.18 L835.86 156.81 L836.00 155.00 L836.19 154.59 L836.52 155.11 L836.85 151.81 L837.18 152.47 L837.20 153.00 L837.51 149.27 L837.84 150.35 L838.00 150.00 L838.17 150.60 L838.50 147.26 L838.83 144.01 L839.00 146.00 L839.16 148.92 L839.49 143.52 L839.82 142.37 L840.00 142.50 L840.15 142.02 L840.48 139.97 L840.81 139.00 L841.00 139.00 L841.14 139.79 L841.47 135.42 L841.80 136.68 L842.13 136.24 L842.20 133.80 L842.46 136.63 L842.79 134.98 L843.00 138.00 L843.12 142.36 L843.45 135.57 L843.78 147.14 L843.80 143.00 L844.11 143.25 L844.44 146.78 L844.50 150.00 L845.00 173.70 L845.50 160.00 L846.00 152.00 L846.09 147.80 L846.42 149.57 L846.75 148.24 L846.80 147.20 L847.08 149.11 L847.41 146.42 L847.60 149.00 L847.74 147.20 L848.07 146.07 L848.40 148.38 L848.50 144.00 L848.73 144.97 L849.06 148.55 L849.30 142.60 L849.39 144.93 L849.72 152.57 L849.80 155.50 L850.05 151.65 L850.38 152.57 L850.50 147.00 L850.71 146.50 L851.04 144.92 L851.20 144.00 L851.37 141.95 L851.70 145.67 L851.80 141.00 L852.03 142.92 L852.36 144.56 L852.60 145.00 L852.69 141.38 L853.02 144.61 L853.35 144.82 L853.50 144.00 L853.68 146.40 L854.01 145.09 L854.30 146.00 L854.34 150.86 L854.67 148.78 L855.00 152.32 L855.00 150.00 L855.33 148.05 L855.66 153.97 L855.70 153.00 L855.99 152.51 L856.32 157.11 L856.40 157.50 L856.65 150.47 L856.98 151.02 L857.00 152.00 L857.31 151.56 L857.64 153.72 L857.80 148.00 L857.97 145.46 L858.30 149.05 L858.50 144.00 L858.63 145.22 L858.96 143.25 L859.29 142.18 L859.30 145.00 L859.62 144.77 L859.95 144.30 L860.00 140.50 L860.28 147.60 L860.61 143.57 L860.80 146.00 L860.94 146.50 L861.27 147.61 L861.50 150.00 L861.60 152.99 L861.93 151.15 L862.26 154.41 L862.30 154.00 L862.59 151.09 L862.92 154.22 L863.00 158.20 L863.25 152.27 L863.58 154.80 L863.80 151.00 L863.91 148.74 L864.24 148.06 L864.50 147.00 L864.57 145.53 L864.90 145.41 L865.20 143.00 L865.23 144.86 L865.56 145.42 L865.89 145.68 L866.00 148.00 L866.22 147.72 L866.55 145.57 L866.80 144.00 L866.88 147.57 L867.21 143.71 L867.54 143.85 L867.60 145.00 L867.87 141.50 L868.20 141.26 L868.50 141.50 L868.53 139.82 L868.86 142.07 L869.19 138.34 L869.30 139.00 L869.52 140.05 L869.85 138.01 L870.00 136.00 L870.18 134.39 L870.51 134.51 L870.84 133.74 L871.00 132.60 L871.17 133.24 L871.50 134.25 L871.83 133.41 L872.00 135.00 L872.16 133.54 L872.49 133.89 L872.80 133.00 L872.82 134.70 L873.15 132.00 L873.48 133.56 L873.50 131.70 L873.81 133.61 L874.14 135.90 L874.30 135.00 L874.47 134.68 L874.80 141.41 L875.00 139.00 L875.13 136.88 L875.46 139.52 L875.60 143.00 L875.79 140.18 L876.12 140.31 L876.30 137.00 L876.45 133.73 L876.78 137.29 L877.00 132.00 L877.11 131.32 L877.44 131.79 L877.77 130.92 L878.00 130.50 L878.10 131.05 L878.43 130.65 L878.76 130.94 L879.00 131.50 L879.09 130.43 L879.42 131.21 L879.75 130.02 L880.00 130.00 L880.08 130.95 L880.41 130.15 L880.74 130.56 L881.00 131.00 L881.07 130.51 L881.40 130.79 L881.73 129.75 L882.00 129.50 L882.06 130.35 L882.39 129.93 L882.72 129.77 L883.00 130.50 L883.05 129.82 L883.38 130.48 L883.71 129.82 L884.00 129.00 L884.04 130.53 L884.37 129.09 L884.70 130.07 L885.00 131.50 L885.03 129.74 L885.36 131.23 L885.69 130.70 L886.00 129.00 L886.02 129.26 L886.35 128.61 L886.68 128.42 L887.01 125.21 L887.20 128.00 L887.34 126.16 L887.67 123.57 L888.00 126.40 L888.00 123.00 L888.33 120.50 L888.66 120.88 L888.99 119.97 L889.00 119.40 L889.32 123.73 L889.65 119.85 L889.80 124.00 L889.98 122.97 L890.31 124.79 L890.64 125.25 L890.97 124.71 L891.00 126.00 L891.30 125.64 L891.63 123.75 L891.96 124.90 L892.00 124.00 L892.29 122.38 L892.62 123.24 L892.95 121.37 L893.00 121.50 L893.28 122.31 L893.61 118.18 L893.94 118.83 L894.00 118.00 L894.27 117.52 L894.60 117.89 L894.93 117.68 L895.20 117.00 L895.26 118.81 L895.59 119.25 L895.92 119.65 L896.00 120.00 L896.25 118.21 L896.58 124.04 L896.91 123.31 L897.00 120.70 L897.24 128.07 L897.30 128.00 L897.57 132.26 L897.90 146.22 L898.00 148.80 L898.23 141.73 L898.56 143.18 L898.80 140.00 L898.89 136.88 L899.22 140.70 L899.55 139.51 L899.70 136.00 L899.88 142.64 L900.21 144.50 L900.50 146.00 L900.54 149.55 L900.87 152.31 L901.20 154.68 L901.50 157.00 L901.53 152.79 L901.86 152.09 L902.19 150.85 L902.30 150.00 L902.52 153.83 L902.85 143.00 L903.18 146.42 L903.30 143.00 L903.51 140.09 L903.84 142.89 L904.17 137.98 L904.30 137.40 L904.50 141.47 L904.83 139.74 L905.00 146.00 L905.16 149.09 L905.49 150.54 L905.82 158.40 L906.00 155.50 L906.15 156.76 L906.48 161.28 L906.81 160.72 L907.00 168.20 L907.14 165.37 L907.47 163.61 L907.80 161.96 L907.80 163.00 L908.13 162.50 L908.46 161.78 L908.50 160.30 L908.79 157.39 L909.12 158.25 L909.30 155.00 L909.45 150.86 L909.78 155.77 L910.00 149.20 L910.11 150.22 L910.44 157.23 L910.77 157.77 L910.80 160.00 L911.10 168.06 L911.43 159.16 L911.76 170.90 L911.80 168.00 L912.09 167.11 L912.42 174.73 L912.50 172.00 L912.75 169.90 L913.08 186.06 L913.20 182.00 L913.41 182.77 L913.74 194.67 L914.00 195.00 L914.07 193.21 L914.40 200.27 L914.50 204.90 L914.73 195.84 L915.00 198.00 L915.06 197.39 L915.39 194.61 L915.60 190.00 L915.72 196.17 L916.05 190.21 L916.20 193.00 L916.38 192.19 L916.71 183.80 L917.00 185.70 L917.04 190.95 L917.10 189.50 L917.37 178.55 L917.50 175.00 L917.70 178.26 L918.00 168.00 L918.03 166.95 L918.36 170.41 L918.69 167.32 L918.80 164.00 L919.02 165.05 L919.35 163.45 L919.50 165.50 L919.68 161.09 L920.01 160.08 L920.30 160.00 L920.34 165.39 L920.67 160.39 L921.00 161.29 L921.00 157.00 L921.33 157.51 L921.66 155.54 L921.70 153.80 L921.99 151.70 L922.20 157.00 L922.32 155.18 L922.65 151.06 L922.98 152.70 L923.00 150.00 L923.31 148.89 L923.64 151.32 L923.97 145.40 L924.00 143.00 L924.30 148.28 L924.50 145.00 L924.63 144.71 L924.96 145.41 L925.00 148.80 L925.29 145.26 L925.62 147.78 L925.80 142.00 L925.95 141.73 L926.28 145.04 L926.60 138.00 L926.61 138.35 L926.94 138.27 L927.27 131.85 L927.60 134.53 L927.70 130.70 L927.93 130.81 L928.26 131.65 L928.50 133.00 L928.59 132.20 L928.92 131.63 L929.25 131.64 L929.50 131.00 L929.58 134.42 L929.91 135.02 L930.24 133.50 L930.30 134.00 L930.57 135.71 L930.90 134.58 L931.00 138.00 L931.23 134.03 L931.56 137.98 L931.80 133.00 L931.89 132.84 L932.22 129.45 L932.55 126.29 L932.60 128.00 L932.88 130.79 L933.21 126.14 L933.50 124.80 L933.54 127.75 L933.87 128.39 L934.20 133.02 L934.20 133.20 L934.53 128.54 L934.86 131.08 L935.00 128.00 L935.19 128.11 L935.52 126.60 L935.85 122.06 L936.00 123.00 L936.18 125.79 L936.51 118.55 L936.84 120.85 L937.17 119.86 L937.20 118.20 L937.50 120.23 L937.83 118.42 L938.00 119.50 L938.16 119.27 L938.49 117.63 L938.82 118.87 L939.15 116.74 L939.30 114.80 L939.48 116.99 L939.81 114.78 L940.14 115.51 L940.30 116.00 L940.47 114.59 L940.80 114.56 L941.13 114.53 L941.30 113.00 L941.46 114.80 L941.79 113.69 L942.12 113.88 L942.30 114.00 L942.45 111.39 L942.78 112.05 L943.11 112.64 L943.30 111.00 L943.44 114.00 L943.77 114.67 L944.00 115.00 L944.10 119.85 L944.43 114.54 L944.60 119.00 L944.76 118.92 L945.09 118.99 L945.20 123.60 L945.42 120.25 L945.75 121.00 L945.80 119.00 L946.08 121.47 L946.40 117.00 L946.41 119.92 L946.74 121.33 L947.07 123.40 L947.20 121.00 L947.40 124.41 L947.73 126.72 L948.00 126.50 L948.06 127.69 L948.39 128.73 L948.72 129.55 L948.80 131.00 L949.05 132.53 L949.38 134.13 L949.70 136.00 L949.71 130.46 L950.04 135.88 L950.37 131.11 L950.50 128.00 L950.70 131.48 L951.03 127.56 L951.36 126.56 L951.40 122.70 L951.69 123.88 L952.02 123.47 L952.30 123.50 L952.35 120.35 L952.68 124.71 L952.90 125.00 L953.01 121.34 L953.30 116.00 L953.34 120.86 L953.67 112.48 L953.70 110.00 L954.00 113.60 L954.10 113.00 L954.33 110.95 L954.60 112.00 L954.66 110.10 L954.99 108.10 L955.30 109.00 L955.32 110.74 L955.65 109.47 L955.98 107.87 L956.00 107.50 L956.31 107.50 L956.64 106.91 L956.97 103.47 L957.00 107.00 L957.30 103.05 L957.50 103.00 L957.63 101.11 L957.96 101.99 L958.00 100.00 L958.29 101.58 L958.60 104.00 L958.62 103.64 L958.95 102.51 L959.20 106.00 L959.28 107.03 L959.61 107.78 L959.70 109.30 L959.94 107.91 L960.27 106.45 L960.50 105.00 L960.60 107.58 L960.93 105.59 L961.26 104.22 L961.59 104.03 L961.80 103.70 L961.92 104.97 L962.25 108.25 L962.50 108.00 L962.58 108.78 L962.91 112.39 L963.20 113.00 L963.24 111.84 L963.57 115.51 L963.90 115.01 L964.20 118.70 L964.23 114.51 L964.56 116.34 L964.80 110.00 L964.89 112.68 L965.22 113.67 L965.50 118.00 L965.55 114.01 L965.88 114.77 L966.21 109.78 L966.30 108.50 L966.54 111.06 L966.87 114.41 L966.90 117.50 L967.20 112.49 L967.50 108.00 L967.53 110.14 L967.86 113.35 L968.19 113.94 L968.20 115.00 L968.52 110.28 L968.85 107.97 L968.90 107.00 L969.18 110.89 L969.51 108.35 L969.60 112.50 L969.84 107.27 L970.17 101.14 L970.30 102.00 L970.50 100.49 L970.83 99.73 L971.00 99.00 L971.16 99.43 L971.49 95.95 L971.80 98.00 L971.82 96.18 L972.15 94.87 L972.48 91.13 L972.70 89.20 L972.81 91.07 L973.14 93.81 L973.30 95.00 L973.47 93.08 L973.80 96.40 L974.00 94.50 L974.13 96.13 L974.46 100.31 L974.79 99.53 L974.80 98.00 L975.12 99.18 L975.45 103.05 L975.50 103.00 L975.78 106.09 L976.00 109.00 L976.11 104.15 L976.44 108.00 L976.70 103.00 L976.77 104.60 L977.10 105.42 L977.43 100.34 L977.50 100.00 L977.76 101.42 L978.09 99.86 L978.30 99.50 L978.42 100.03 L978.75 98.41 L979.00 100.50 L979.08 100.25 L979.41 95.94 L979.74 97.14 L979.80 96.00 L980.07 93.79 L980.40 95.69 L980.73 91.84 L980.80 91.70 L981.06 92.84 L981.39 93.43 L981.60 94.50 L981.72 93.33 L982.05 92.52 L982.30 89.00 L982.38 91.94 L982.71 88.23 L983.00 86.70 L983.04 88.40 L983.37 89.13 L983.70 89.35 L983.80 90.00 L984.03 89.11 L984.36 89.35 L984.69 86.38 L984.70 87.50 L985.02 88.28 L985.35 85.14 L985.68 86.62 L985.80 84.60 L986.01 85.39 L986.34 85.50 L986.67 84.51 L986.80 85.50 L987.00 83.82 L987.33 81.24 L987.50 82.00 L987.66 83.46 L987.99 81.84 L988.00 80.80 L988.32 82.85 L988.65 82.42 L988.80 84.00 L988.98 86.89 L989.31 84.20 L989.64 86.59 L989.80 88.30 L989.97 84.83 L990.30 81.30 L990.30 82.00 L990.63 79.54 L990.96 81.36 L991.00 79.00 L991.29 78.93 L991.62 77.65 L991.70 80.00 L991.95 75.62 L992.28 76.88 L992.30 75.00 L992.61 75.93 L992.94 75.37 L993.27 70.29 L993.30 70.80 L993.60 71.94 L993.93 69.49 L994.00 70.00 L994.26 69.86 L994.59 67.57 L994.92 67.89 L995.00 66.60 L995.25 67.44 L995.58 68.72 L995.70 68.50 L995.91 68.81 L996.24 69.02 L996.30 69.50" fill="none" stroke="#1f77b4" stroke-width="1.5" stroke-linejoin="round" stroke-linecap="square"/>
<g fill="#333333">
<rect x="144" y="52" width="1" height="327"/>
<rect x="1037" y="52" width="1" height="327"/>
<rect x="144" y="52" width="894" height="1"/>
<rect x="144" y="378" width="894" height="1"/>
<rect x="199" y="379" width="1" height="3.5"/>
<rect x="358" y="379" width="1" height="3.5"/>
<rect x="518" y="379" width="1" height="3.5"/>
<rect x="677" y="379" width="1" height="3.5"/>
<rect x="837" y="379" width="1" height="3.5"/>
<rect x="996" y="379" width="1" height="3.5"/>
<rect x="141.5" y="319" width="2.5" height="1"/>
<rect x="141.5" y="255" width="2.5" height="1"/>
<rect x="141.5" y="191" width="2.5" height="1"/>
<rect x="141.5" y="126" width="2.5" height="1"/>
<rect x="141.5" y="62" width="2.5" height="1"/>
</g>
<text x="186.90 192.20 198.70 204.90" y="392.5">2010</text>
<text x="345.90 351.20 357.70 363.90" y="392.5">2012</text>
<text x="505.90 511.20 517.70 523.90" y="392.5">2014</text>
<text x="664.90 670.20 676.70 682.90" y="392.5">2016</text>
<text x="824.90 830.20 836.70 842.90" y="392.5">2018</text>
<text x="983.90 989.20 995.70 1001.90" y="392.5">2020</text>
<text x="124.90 130.20" y="322.50">24</text>
<text x="124.90 130.40" y="258.50">25</text>
<text x="124.90 130.40" y="194.50">26</text>
<text x="124.90 130.20" y="129.50">27</text>
<text x="124.90 130.20" y="65.50">28</text>
<rect x="149.5" y="57.5" width="52" height="18" rx="2" ry="2" fill="#ffffff" fill-opacity="0.8" stroke="#cccccc" stroke-opacity="0.8" stroke-width="1"/>
<path d="M152.25 65H173.75" fill="none" stroke="#1f77b4" stroke-width="1.5"/>
<text x="181.90 188.10 194.10" y="68.5">CPI</text>
</svg>
</body></html>
